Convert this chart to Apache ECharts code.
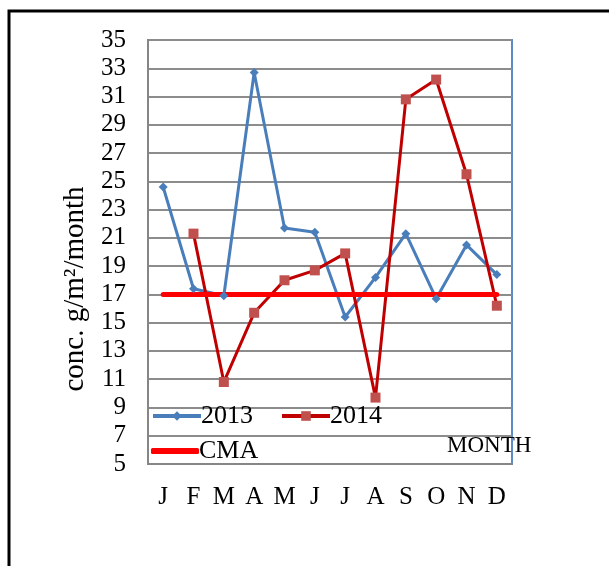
<!DOCTYPE html>
<html>
<head>
<meta charset="utf-8">
<script src="https://cdn.jsdelivr.net/npm/echarts@6/dist/echarts.min.js"></script>
<style>
  html, body { margin: 0; padding: 0; background: #fff; }
  #chart { width: 609px; height: 566px; }
</style>
</head>
<body>
<div id="chart"></div>
<script>
// months on the x axis
const months = ['J', 'F', 'M', 'A', 'M', 'J', 'J', 'A', 'S', 'O', 'N', 'D']
// values
const y2013 = [24.6, 17.4, 16.9, 32.7, 21.7, 21.4, 15.4, 18.2, 21.3, 16.7, 20.5, 18.4]
const y2014 = [null, 21.3, 10.8, 15.7, 18.0, 18.7, 19.9, 9.7, 30.8, 32.2, 25.5, 16.2]
const cma = [17, 17, 17, 17, 17, 17, 17, 17, 17, 17, 17, 17]

const serif = '"Liberation Serif", "Times New Roman", serif'

const chart = echarts.init(document.getElementById('chart'))
chart.setOption({
    animation: false,
    backgroundColor: '#fff',
    textStyle: { fontFamily: serif, color: '#000' },
    grid: {
        left: 148, top: 40, width: 364, height: 424,
        show: true, borderColor: '#5b8cc8', borderWidth: 2,
        containLabel: false
    },
    legend: [
        {
            data: ['2013', '2014'],
            left: 146, top: 398,
            itemWidth: 48, itemHeight: 12, itemGap: 27,
            lineStyle: { width: 4 },
            textStyle: { fontFamily: serif, fontSize: 26, color: '#000', padding: [0, 0, 0, -5] }
        },
        {
            data: [{ name: 'CMA', icon: 'roundRect' }],
            left: 146, top: 433,
            itemWidth: 48, itemHeight: 6,
            textStyle: { fontFamily: serif, fontSize: 26, color: '#000', padding: [0, 0, 0, -5] }
        }
    ],
    xAxis: {
        type: 'category',
        data: months,
        boundaryGap: true,
        axisLine: { lineStyle: { color: '#868686', width: 2 } },
        axisTick: { show: false },
        axisLabel: { fontFamily: serif, fontSize: 25, color: '#000', margin: 21 }
    },
    yAxis: {
        type: 'value',
        min: 5, max: 35, interval: 2,
        name: 'conc. g/m²/month',
        nameLocation: 'middle',
        nameGap: 58,
        nameTextStyle: { fontFamily: serif, fontSize: 29, color: '#000', padding: [0, 74, 0, 0] },
        axisLine: { show: true, lineStyle: { color: '#868686', width: 2 } },
        axisTick: { show: false },
        axisLabel: { fontFamily: serif, fontSize: 25, color: '#000', margin: 22 },
        splitLine: { lineStyle: { color: '#8c8c8c', width: 2 } }
    },
    series: [
        {
            name: '2013', type: 'line', data: y2013,
            symbol: 'diamond', symbolSize: 9, showAllSymbol: true,
            lineStyle: { color: '#4a7ebb', width: 3 },
            itemStyle: { color: '#4a7ebb' }
        },
        {
            name: '2014', type: 'line', data: y2014,
            symbol: 'rect', symbolSize: 10, showAllSymbol: true,
            lineStyle: { color: '#c00000', width: 3 },
            itemStyle: { color: '#c0504d' }
        },
        {
            name: 'CMA', type: 'line', data: cma,
            symbol: 'none',
            lineStyle: { color: '#ff0000', width: 5, cap: 'round' },
            itemStyle: { color: '#ff0000' }
        }
    ],
    graphic: [
        {
            type: 'rect', silent: true,
            shape: { x: 9, y: 11, width: 800, height: 800 },
            style: { fill: 'none', stroke: '#000', lineWidth: 3 }
        },
        {
            type: 'text', left: 447, top: 434, silent: true,
            style: { text: 'MONTH', font: '23px ' + serif, fill: '#000' }
        }
    ]
})
</script>
</body>
</html>
